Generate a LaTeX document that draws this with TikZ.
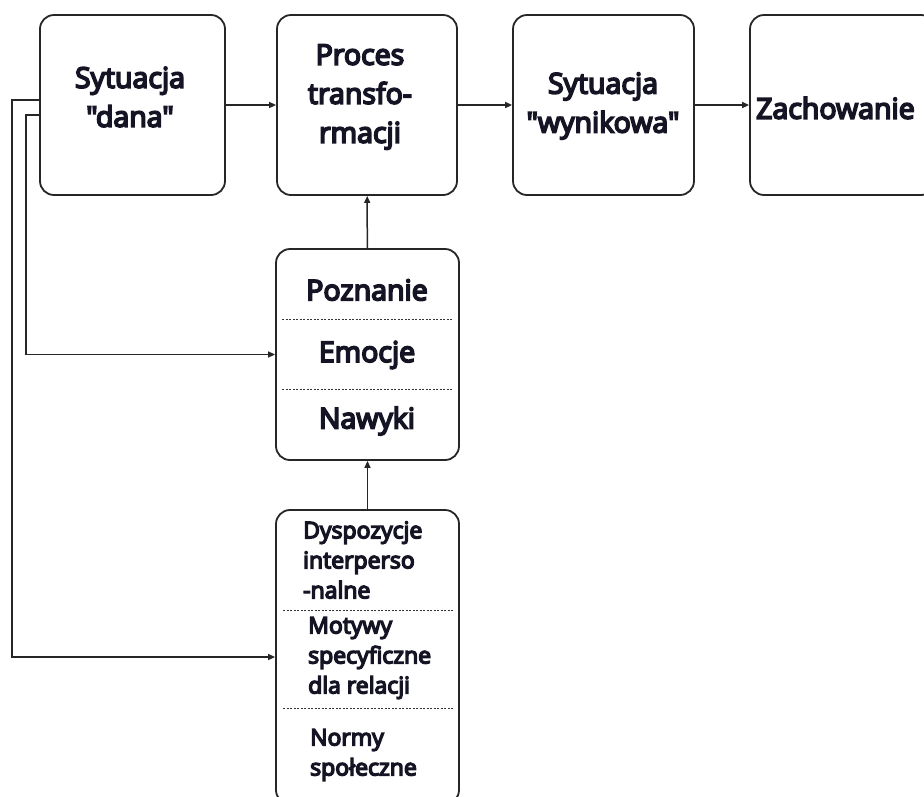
\documentclass[tikz,border=0pt]{standalone}
\usepackage{fontspec}
\setmainfont{Open Sans}[FakeBold=6, Ligatures=TeXOff]
\usetikzlibrary{arrows.meta}
\definecolor{ink}{rgb}{0.08,0.08,0.14}
\begin{document}
\begin{tikzpicture}[x=1pt,y=-1pt,
  box/.style={draw=black!85, line width=1.8pt, rounded corners=14pt, inner sep=0pt},
  big/.style={font=\fontsize{28.5}{39}\selectfont, text=ink, align=center, inner sep=0pt},
  small/.style={font=\fontsize{23}{30}\selectfont, text=ink, align=left, inner sep=0pt, anchor=west},
  arr/.style={draw=black!85, line width=1.5pt, -{Triangle[length=7pt,width=6pt]}},
  sep/.style={draw=black!80, line width=1pt, dash pattern=on 2pt off 1.5pt}]
\useasboundingbox (0,0) rectangle (924,796);
\clip (0,0) rectangle (924,796);
% boxes
\node[box, minimum width=185pt, minimum height=180pt] (b1) at (132.5,105) {};
\node[box, minimum width=180pt, minimum height=180pt] (b2) at (367,105) {};
\node[box, minimum width=181pt, minimum height=180pt] (b3) at (603.5,105) {};
\node[box, minimum width=185pt, minimum height=180pt] (b4) at (842.5,105) {};
\node[box, minimum width=183pt, minimum height=211pt] (b5) at (367.5,354.5) {};
\node[box, minimum width=183pt, minimum height=294pt] (b6) at (367.5,657) {};
% texts
\node[big] (t1) at (130,97) {Sytuacja\\"dana"};
\node[big] (t2) at (360,97) {Proces\\transfo-\\rmacji};
\node[big] (t3) at (603,106) {Sytuacja\\"wynikowa"};
\node[big, anchor=west] (t4) at (756,108) {Zachowanie};
\node[big] (t5a) at (367,290) {Poznanie};
\node[big] (t5b) at (367,355) {Emocje};
\node[big] (t5c) at (367,421) {Nawyki};
\node[small] (t6a) at (303,560) {Dyspozycje\\interperso\\-nalne};
\node[small] (t6b) at (308,658) {Motywy\\specyficzne\\dla relacji};
\node[small] (t6c) at (310,755) {Normy\\społeczne};
% separators
\draw[sep] (282,319) -- (453,319);
\draw[sep] (282,389) -- (453,389);
\draw[sep] (283,610) -- (453,610);
\draw[sep] (283,708) -- (453,708);
% connectors
\draw[arr] (b1) -- (b2);
\draw[arr] (b2) -- (b3);
\draw[arr] (b3) -- (b4);
\draw[arr] (b5) -- (b2);
\draw[arr] (b6) -- (b5);
\draw[arr] ([yshift=-10pt]b1.west) -- ++(-13,0) |- (b5.west);
\draw[arr] ([yshift=5pt]b1.west) -- ++(-27,0) |- (b6.west);
\end{tikzpicture}
\end{document}
